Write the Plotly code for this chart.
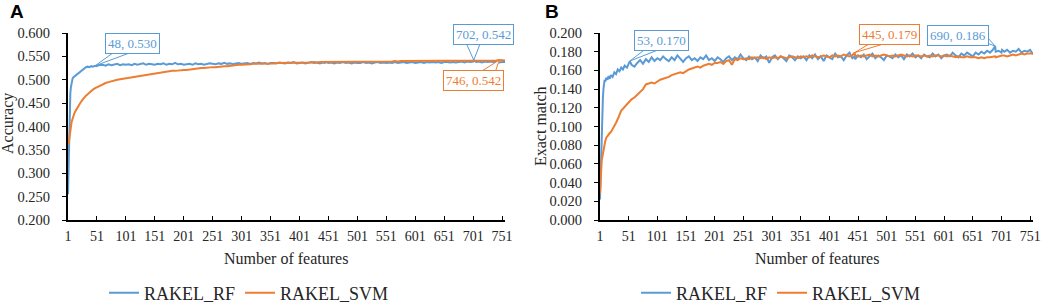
import plotly.graph_objects as go

# ---------------- data ----------------
FEATURES = ([1, 2, 3, 4, 5, 6, 7, 8, 9, 10, 12, 14, 16, 18, 20,
             23, 26, 29, 32, 35, 38, 41, 44, 48, 51, 53]
            + sorted(set(range(56, 757, 5)) | {445, 690, 702}))

X_TICKS = list(range(1, 752, 50))

RF_ACC = [
    0.255, 0.330, 0.400, 0.445, 0.470, 0.484, 0.493, 0.499, 0.503, 0.505,
    0.507, 0.509, 0.511, 0.513, 0.515,
    0.518, 0.522, 0.525, 0.527, 0.528, 0.527, 0.529, 0.528,
    0.530, 0.529, 0.531,
    0.531, 0.532, 0.530, 0.533, 0.531, 0.532, 0.534, 0.531, 0.533, 0.532,
    0.533, 0.531, 0.534, 0.532, 0.533, 0.535, 0.532, 0.534, 0.533, 0.532,
    0.534, 0.533, 0.535, 0.532, 0.534, 0.533, 0.536, 0.533, 0.534, 0.532,
    0.533, 0.534, 0.532, 0.535, 0.533, 0.534, 0.532, 0.533, 0.535, 0.534,
    0.533, 0.535, 0.534, 0.536, 0.534, 0.535, 0.533, 0.535, 0.536, 0.534,
    0.535, 0.536, 0.534, 0.536, 0.535, 0.537, 0.535, 0.536, 0.534, 0.536,
    0.536, 0.535, 0.537, 0.536, 0.535, 0.537, 0.536, 0.538, 0.535, 0.536,
    0.537, 0.535, 0.536, 0.538, 0.536, 0.537, 0.535, 0.537, 0.536, 0.538, 0.536,
    0.537, 0.535, 0.537, 0.536, 0.538, 0.536, 0.537, 0.535, 0.537, 0.536,
    0.536, 0.538, 0.536, 0.537, 0.535, 0.537, 0.538, 0.536, 0.537, 0.536,
    0.537, 0.536, 0.538, 0.536, 0.537, 0.538, 0.536, 0.537, 0.538, 0.536,
    0.537, 0.538, 0.536, 0.538, 0.537, 0.538, 0.537, 0.538, 0.536, 0.538,
    0.538, 0.537, 0.538, 0.537, 0.538, 0.539, 0.537, 0.538, 0.539, 0.538, 0.539, 0.542,
    0.538, 0.539, 0.537, 0.539, 0.538, 0.539, 0.538, 0.539, 0.537, 0.538,
    0.538,
]

SVM_ACC = [
    0.366, 0.362, 0.372, 0.384, 0.394, 0.402, 0.408, 0.413, 0.418, 0.422,
    0.428, 0.433, 0.438, 0.443, 0.447,
    0.452, 0.457, 0.462, 0.466, 0.469, 0.473, 0.476, 0.479,
    0.482, 0.484, 0.486,
    0.487, 0.490, 0.493, 0.495, 0.497, 0.499, 0.500, 0.501, 0.502, 0.503,
    0.505, 0.506, 0.507, 0.508, 0.509, 0.510, 0.511, 0.511, 0.512, 0.513,
    0.514, 0.515, 0.516, 0.517, 0.518, 0.519, 0.519, 0.520, 0.520, 0.521,
    0.521, 0.522, 0.523, 0.523, 0.524, 0.525, 0.525, 0.526, 0.526, 0.527,
    0.527, 0.528, 0.528, 0.529, 0.529, 0.530, 0.531, 0.531, 0.532, 0.532,
    0.532, 0.533, 0.533, 0.534, 0.534, 0.534, 0.535, 0.535, 0.535, 0.535,
    0.535, 0.536, 0.536, 0.536, 0.536, 0.537, 0.536, 0.537, 0.537, 0.537,
    0.537, 0.537, 0.537, 0.537, 0.538, 0.537, 0.538, 0.538, 0.538, 0.538, 0.538,
    0.538, 0.538, 0.538, 0.538, 0.538, 0.538, 0.539, 0.538, 0.539, 0.539,
    0.539, 0.539, 0.539, 0.539, 0.539, 0.539, 0.539, 0.539, 0.539, 0.539,
    0.539, 0.539, 0.540, 0.539, 0.540, 0.540, 0.540, 0.540, 0.540, 0.540,
    0.540, 0.540, 0.540, 0.540, 0.540, 0.540, 0.540, 0.541, 0.540, 0.540,
    0.540, 0.541, 0.540, 0.541, 0.541, 0.541, 0.541, 0.541, 0.541, 0.541, 0.541, 0.541,
    0.541, 0.541, 0.541, 0.541, 0.541, 0.541, 0.541, 0.541, 0.542, 0.541,
    0.541,
]

RF_EM = [
    0.022, 0.050, 0.080, 0.100, 0.118, 0.130, 0.140, 0.146, 0.150, 0.148,
    0.152, 0.150, 0.154, 0.151, 0.155,
    0.153, 0.158, 0.156, 0.161, 0.159, 0.163, 0.161, 0.165,
    0.163, 0.167, 0.170,
    0.166, 0.164, 0.168, 0.171, 0.167, 0.172, 0.169, 0.174, 0.170, 0.173,
    0.171, 0.175, 0.172, 0.170, 0.174, 0.171, 0.176, 0.172, 0.169, 0.173,
    0.175, 0.171, 0.173, 0.170, 0.174, 0.172, 0.176, 0.171, 0.173, 0.170,
    0.174, 0.172, 0.169, 0.173, 0.175, 0.171, 0.174, 0.172, 0.177, 0.173,
    0.171, 0.175, 0.172, 0.174, 0.170, 0.176, 0.173, 0.175, 0.168, 0.174,
    0.176, 0.172, 0.175, 0.173, 0.170, 0.176, 0.174, 0.171, 0.175, 0.173,
    0.175, 0.171, 0.176, 0.173, 0.177, 0.172, 0.175, 0.170, 0.176, 0.174,
    0.172, 0.178, 0.174, 0.175, 0.171, 0.176, 0.179, 0.173, 0.175, 0.172, 0.176,
    0.174, 0.177, 0.172, 0.175, 0.178, 0.173, 0.176, 0.174, 0.171, 0.176,
    0.175, 0.173, 0.177, 0.174, 0.176, 0.172, 0.177, 0.175, 0.178, 0.174,
    0.176, 0.173, 0.177, 0.175, 0.174, 0.178, 0.175, 0.177, 0.173, 0.176,
    0.177, 0.175, 0.179, 0.176, 0.174, 0.178, 0.176, 0.179, 0.177, 0.175,
    0.179, 0.177, 0.180, 0.178, 0.181, 0.179, 0.182, 0.186, 0.180, 0.181, 0.179, 0.182,
    0.180, 0.182, 0.179, 0.181, 0.180, 0.183, 0.179, 0.181, 0.180, 0.182,
    0.177,
]

SVM_EM = [
    0.028, 0.045, 0.058, 0.064, 0.067, 0.071, 0.075, 0.078, 0.081, 0.084,
    0.088, 0.090, 0.091, 0.093, 0.094,
    0.097, 0.101, 0.104, 0.108, 0.113, 0.117, 0.119, 0.121,
    0.124, 0.126, 0.128,
    0.129, 0.131, 0.134, 0.136, 0.140, 0.145, 0.146, 0.147, 0.146, 0.148,
    0.150, 0.151, 0.152, 0.153, 0.155, 0.156, 0.157, 0.158, 0.157, 0.159,
    0.161, 0.162, 0.163, 0.164, 0.163, 0.165, 0.166, 0.167, 0.166, 0.168,
    0.168, 0.169, 0.167, 0.170, 0.171, 0.166, 0.172, 0.171, 0.173, 0.172,
    0.173, 0.172, 0.174, 0.173, 0.174, 0.173, 0.174, 0.172, 0.174, 0.173,
    0.174, 0.173, 0.175, 0.174, 0.173, 0.174, 0.175, 0.174, 0.173, 0.175,
    0.174, 0.175, 0.174, 0.176, 0.175, 0.174, 0.175, 0.176, 0.175, 0.174,
    0.176, 0.175, 0.176, 0.175, 0.177, 0.176, 0.175, 0.176, 0.179, 0.176, 0.175,
    0.176, 0.175, 0.176, 0.177, 0.175, 0.176, 0.175, 0.176, 0.177, 0.176,
    0.175, 0.176, 0.175, 0.176, 0.177, 0.176, 0.175, 0.176, 0.175, 0.176,
    0.176, 0.175, 0.176, 0.175, 0.176, 0.175, 0.176, 0.176, 0.175, 0.176,
    0.175, 0.176, 0.175, 0.174, 0.175, 0.174, 0.174, 0.175, 0.174, 0.174,
    0.174, 0.173, 0.174, 0.173, 0.174, 0.174, 0.175, 0.175, 0.174, 0.175, 0.176, 0.176,
    0.176, 0.175, 0.176, 0.177, 0.176, 0.177, 0.178, 0.177, 0.178, 0.178,
    0.178,
]

SERIES_NAMES = ["RAKEL_RF", "RAKEL_SVM"]
BLUE = "#5B9BD5"
ORANGE = "#ED7D31"

# callouts: (panel, series, feature, text offset px (dx, dy), wedge base offsets px)
CALLOUTS = [
    ("A", "RF", 48, (37, -22), [(18, 13), (35, 13)]),
    ("A", "RF", 702, (10, -26), [(-8, 18), (7, 18)]),
    ("A", "SVM", 746, (-26, 20), [(-19, -12), (-4, -12)]),
    ("B", "RF", 53, (32, -21), [(17, 13), (33, 13)]),
    ("B", "SVM", 445, (35, -18), [(15, 9), (30, 9)]),
    ("B", "RF", 690, (-37, -11), [(-8, 9), (-8, 3)]),
]

# ---------------- figure ----------------
W, H = 1052, 306
SERIF = "Liberation Serif"
TXT = "#262626"

fig = go.Figure()

series = {
    ("A", "RF"): RF_ACC, ("A", "SVM"): SVM_ACC,
    ("B", "RF"): RF_EM, ("B", "SVM"): SVM_EM,
}
axes = {"A": ("x", "y", "legend"), "B": ("x2", "y2", "legend2")}
colors = {"RF": BLUE, "SVM": ORANGE}
names = {"RF": SERIES_NAMES[0], "SVM": SERIES_NAMES[1]}

for panel in ["A", "B"]:
    xa, ya, lg = axes[panel]
    for s in ["RF", "SVM"]:
        fig.add_trace(go.Scatter(
            x=FEATURES, y=series[(panel, s)], mode="lines",
            line=dict(color=colors[s], width=2),
            name=names[s], xaxis=xa, yaxis=ya, legend=lg, showlegend=True,
        ))


def px2x(p):
    return p / W


def px2y(p):
    return 1 - p / H


common_x = dict(
    range=[1, 756], tickvals=X_TICKS, ticks="inside", ticklen=4, tickwidth=1,
    tickcolor="black", showline=True, linecolor="black", linewidth=2,
    showgrid=False, zeroline=False, tickfont=dict(family=SERIF, size=14, color=TXT),
    ticklabelstandoff=2, fixedrange=True, automargin=False,
)
common_y = dict(
    ticks="outside", ticklen=4, tickwidth=1, tickcolor="black", showline=True,
    linecolor="black", linewidth=2, showgrid=False, zeroline=False,
    tickfont=dict(family=SERIF, size=14.5, color=TXT), tickformat=".3f",
    ticklabelstandoff=9, fixedrange=True, automargin=False,
)

legend_common = dict(orientation="h", xanchor="left", yanchor="middle",
                     font=dict(family=SERIF, size=18, color=TXT), itemwidth=30,
                     bgcolor="rgba(0,0,0,0)")

fig.update_layout(
    width=W, height=H, margin=dict(l=0, r=0, t=0, b=0, autoexpand=False),
    paper_bgcolor="white", plot_bgcolor="white",
    xaxis=dict(domain=[px2x(68), px2x(505)], anchor="y", **common_x),
    yaxis=dict(domain=[px2y(220), px2y(33)], anchor="x", range=[0.2, 0.6], dtick=0.05, **common_y),
    xaxis2=dict(domain=[px2x(600), px2x(1033)], anchor="y2", **common_x),
    yaxis2=dict(domain=[px2y(220), px2y(33)], anchor="x2", range=[0, 0.2], dtick=0.02, **common_y),
    legend=dict(x=px2x(104), y=px2y(293), **legend_common),
    legend2=dict(x=px2x(636), y=px2y(293), **legend_common),
    showlegend=True,
)

annotations = []
mid = dict(xanchor="center", yanchor="middle", showarrow=False, xref="paper", yref="paper")
# axis titles
annotations.append(dict(text="Number of features", x=px2x(286), y=px2y(258),
                        font=dict(family=SERIF, size=16, color=TXT), **mid))
annotations.append(dict(text="Number of features", x=px2x(817), y=px2y(258),
                        font=dict(family=SERIF, size=16, color=TXT), **mid))
annotations.append(dict(text="Accuracy", textangle=-90, x=px2x(8), y=px2y(124),
                        font=dict(family=SERIF, size=16, color=TXT), **mid))
annotations.append(dict(text="Exact match", textangle=-90, x=px2x(540), y=px2y(126),
                        font=dict(family=SERIF, size=16, color=TXT), **mid))
# panel letters
annotations.append(dict(text="<b>A</b>", x=px2x(17), y=px2y(12),
                        font=dict(family="Liberation Sans", size=19, color="black"), **mid))
annotations.append(dict(text="<b>B</b>", x=px2x(552), y=px2y(12),
                        font=dict(family="Liberation Sans", size=19, color="black"), **mid))

shapes = []
for panel, s, feat, (dx, dy), base in CALLOUTS:
    xa, ya, _ = axes[panel]
    idx = FEATURES.index(feat)
    val = series[(panel, s)][idx]
    col = colors[s]
    path = "M 0,0 L {},{} L {},{} Z".format(base[0][0], base[0][1], base[1][0], base[1][1])
    shapes.append(dict(type="path", xref=xa, yref=ya, xsizemode="pixel", ysizemode="pixel",
                       xanchor=feat, yanchor=val, path=path,
                       line=dict(color=col, width=1), fillcolor="white", layer="above"))
    annotations.append(dict(text=f"{feat}, {val:.3f}", xref=xa, yref=ya, x=feat, y=val,
                            showarrow=True, arrowcolor="rgba(0,0,0,0)", arrowwidth=0.1,
                            ax=dx, ay=dy, bgcolor="white", bordercolor=col, borderwidth=1,
                            borderpad=2, font=dict(family=SERIF, size=13, color=col)))

fig.update_layout(annotations=annotations, shapes=shapes)
fig.write_html("out.html", config={"displayModeBar": False},
               post_script="document.body.style.margin='0';document.body.style.overflow='hidden';")
